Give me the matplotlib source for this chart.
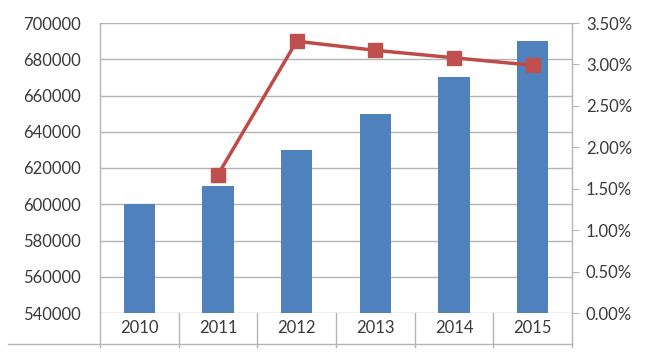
import matplotlib
matplotlib.use("Agg")
import matplotlib.pyplot as plt
from matplotlib.lines import Line2D
import numpy as np

# Data
years = ["2010", "2011", "2012", "2013", "2014", "2015"]
values = [600000, 610000, 630000, 650000, 670000, 690000]
growth_years = ["2011", "2012", "2013", "2014", "2015"]
growth = [0.0167, 0.0328, 0.0317, 0.0308, 0.0299]

left_ticks = [540000, 560000, 580000, 600000, 620000, 640000, 660000, 680000, 700000]
right_ticks = [0.0, 0.005, 0.01, 0.015, 0.02, 0.025, 0.03, 0.035]

bar_color = "#4f81bd"
line_color = "#be4b48"
grid_color = "#b4b4b4"
text_color = "#3a3a3a"

plt.rcParams["font.family"] = ["Lato", "DejaVu Sans"]

W, H = 648, 352
fig = plt.figure(figsize=(W / 100, H / 100), dpi=100)
x0, x1, y_top, y_bot = 100, 572, 23, 313
ax = fig.add_axes([x0 / W, (H - y_bot) / H, (x1 - x0) / W, (y_bot - y_top) / H])

x = np.arange(len(years))
ax.bar(x, values, width=0.4, color=bar_color, zorder=3)
ax.set_xlim(-0.5, len(years) - 0.5)
ax.set_ylim(left_ticks[0], left_ticks[-1])
ax.set_yticks(left_ticks)
ax.set_yticklabels([str(v) for v in left_ticks], color=text_color, fontsize=12)
ax.tick_params(axis="y", length=0, pad=14)
ax.set_xticks([])
ax.grid(axis="y", color=grid_color, linewidth=1, zorder=0)
ax.set_axisbelow(True)
for s in ax.spines.values():
    s.set_visible(False)

# Right axis for growth rate
ax2 = ax.twinx()
gx = [years.index(y) for y in growth_years]
ax2.plot(gx, growth, color=line_color, linewidth=2.5, marker="s",
         markersize=10, markerfacecolor="#c0504d", markeredgecolor="#c0504d",
         zorder=5, clip_on=False)
ax2.set_ylim(right_ticks[0], right_ticks[-1])
ax2.set_yticks(right_ticks)
ax2.set_yticklabels(["%.2f%%" % (v * 100) for v in right_ticks], color=text_color, fontsize=12)
ax2.tick_params(axis="y", direction="out", length=5, color=grid_color, pad=5)
for s in ax2.spines.values():
    s.set_visible(False)

# Category table lines below the plot
cat_bottom = -(347 - y_bot) / (y_bot - y_top)
row_line = -(344 - y_bot) / (y_bot - y_top)
for i in range(len(years) + 1):
    xf = i / len(years)
    ax.add_line(Line2D([xf, xf], [cat_bottom, 1 if i in (0, len(years)) else 0],
                       transform=ax.transAxes, color=grid_color, linewidth=1, clip_on=False))
ax.add_line(Line2D([(8 - x0) / (x1 - x0), 1], [row_line, row_line],
                   transform=ax.transAxes, color=grid_color, linewidth=1, clip_on=False))

label_y = -(328 - y_bot) / (y_bot - y_top)
for i, yr in enumerate(years):
    ax.text((i + 0.5) / len(years), label_y, yr, transform=ax.transAxes,
            ha="center", va="center", fontsize=12, color=text_color)

fig.savefig("out.png", dpi=100, facecolor="white")
